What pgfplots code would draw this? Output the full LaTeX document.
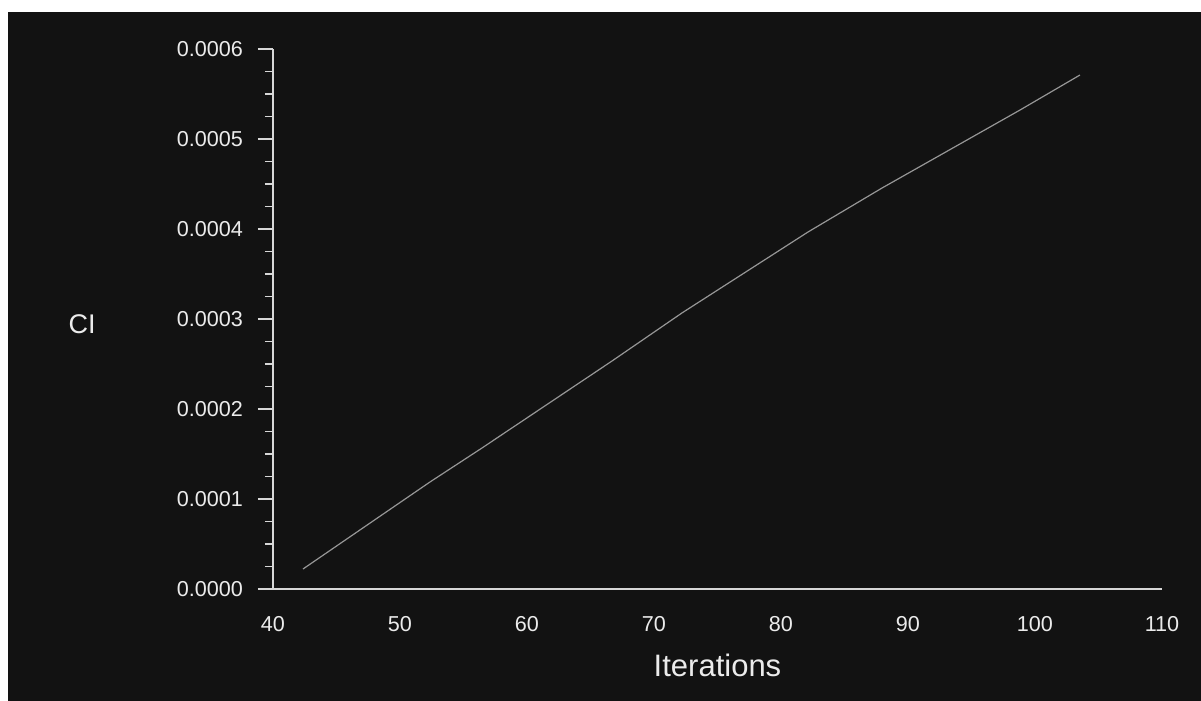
\documentclass[border=0pt]{standalone}
\usepackage{pgfplots}
\pgfplotsset{compat=1.18}
\usepackage{fontspec}
\setmainfont{Liberation Sans}
\definecolor{bgdark}{RGB}{18,18,18}
\definecolor{txt}{RGB}{235,235,235}
\definecolor{axc}{RGB}{215,215,215}
\definecolor{linec}{RGB}{150,150,150}
\begin{document}
\begin{tikzpicture}
\useasboundingbox (-136.5bp,-56bp) rectangle (464bp,294.5bp);
\fill[white] (-136.5bp,-56bp) rectangle (464bp,294.5bp);
\fill[bgdark] (-132.5bp,-56bp) rectangle (464bp,288.5bp);
\begin{axis}[
  at={(0,0)}, anchor=south west,
  scale only axis, width=444.5bp, height=270bp,
  xmin=40, xmax=110, ymin=0, ymax=0.0006,
  axis lines=left,
  axis line style={-, axc, line width=0.75bp},
  x axis line style={shorten <=-6.5bp},
  xtick={40,50,...,110},
  ytick={0,0.0001,0.0002,0.0003,0.0004,0.0005,0.0006},
  minor x tick num=3, minor y tick num=3,
  tick align=outside,
  major tick length=7.5bp, minor tick length=4bp,
  tick style={axc, line width=0.75bp},
  xtick style={draw=none},
  scaled y ticks=false,
  y tick label style={/pgf/number format/fixed, /pgf/number format/fixed zerofill, /pgf/number format/precision=4, xshift=-4bp},
  /pgf/number format/assume math mode=true,
  tick label style={font=\fontsize{10.8bp}{12bp}\selectfont, text=txt},
  x tick label style={yshift=-2.5bp},
  xlabel={Iterations}, ylabel={CI},
  label style={text=txt},
  xlabel style={font=\fontsize{15.5bp}{18bp}\selectfont, at={(axis description cs:0.5,-0.1407)}, anchor=center},
  ylabel style={font=\fontsize{13.5bp}{16bp}\selectfont, rotate=-90, at={(axis description cs:-0.2148,0.4907)}, anchor=center},
]
\addplot[linec, line width=0.6bp] coordinates {
(42.36,0.0000222) (52.36,0.0001189) (56.46,0.0001567) (66.69,0.0002533)
(72.20,0.0003067) (82.13,0.0003967) (87.95,0.0004455) (98.82,0.0005322)
(103.54,0.0005711)
};
\end{axis}
\end{tikzpicture}
\end{document}
